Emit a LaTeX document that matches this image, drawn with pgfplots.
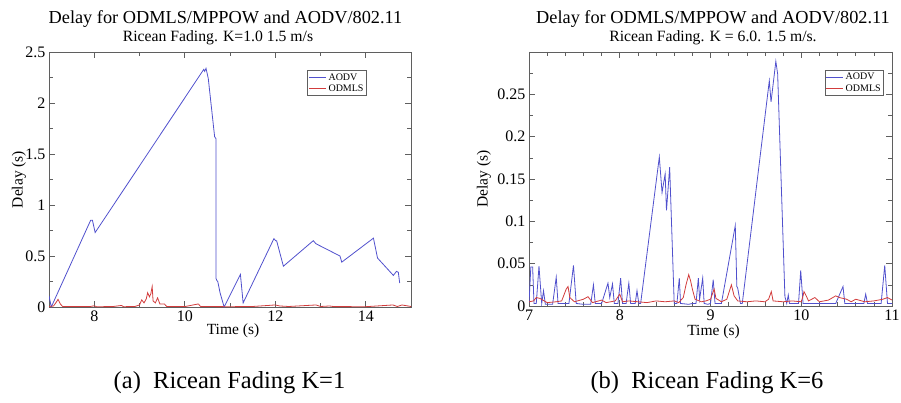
\documentclass[border=0pt]{standalone}
\usepackage{fontspec}
\setmainfont{Liberation Serif}
\usepackage{pgfplots}
\pgfplotsset{compat=1.18}
\definecolor{aodv}{RGB}{80,80,205}
\definecolor{odmls}{RGB}{210,60,60}
\definecolor{frm}{RGB}{95,95,95}
\pgfplotsset{
  myaxis/.style={
    scale only axis,
    axis line style={frm, line width=0.8pt},
    every tick/.style={frm, line width=0.6pt},
    tick align=inside,
    major tick length=6pt, minor tick length=4pt,
    scaled ticks=false,
    /pgf/number format/assume math mode=true,
    tick label style={font=\fontsize{16}{16}\selectfont},
    label style={font=\fontsize{15.5}{16}\selectfont},
    legend style={font=\fontsize{10}{10}\selectfont, draw=frm, line width=0.6pt,
      inner sep=1pt, row sep=-1pt, anchor=north east},
    legend cell align=left,
    clip=true,
  }
}
\begin{document}
\begin{tikzpicture}[x=1pt,y=1pt]
\useasboundingbox (0,0) rectangle (901,402);
% ---------------- left axis ----------------
\begin{axis}[myaxis,
  at={(49pt,95pt)}, anchor=south west,
  width=362pt, height=255pt,
  xmin=7, xmax=15, ymin=0, ymax=2.5,
  xtick={8,10,12,14}, minor xtick={9,11,13},
  ytick={0,0.5,1,1.5,2,2.5}, yticklabels={0,0.5,1,1.5,2,2.5},
  minor ytick={0.25,0.75,1.25,1.75,2.25},
  xlabel={Time (s)}, ylabel={Delay (s)},
  xlabel style={at={(axis description cs:0.5,0)}, anchor=base, yshift=-27pt, xshift=3pt},
  ylabel style={at={(axis description cs:-0.083,0.5)}, anchor=center, rotate=0},
  legend style={at={(0.878,0.929)}},
]
\addplot[aodv, line width=0.8pt] coordinates {
(7.0,0.11)(7.05,0)(7.92,0.85)(7.96,0.85)(8.02,0.73)(10.42,2.33)(10.44,2.31)(10.47,2.34)(10.52,2.24)(10.66,1.67)(10.69,1.65)(10.69,0.28)(10.71,0.26)(10.73,0.25)(10.78,0.14)(10.87,0)
(11.23,0.32)(11.29,0.04)(11.97,0.67)(12.01,0.65)(12.03,0.65)(12.18,0.40)(12.84,0.65)(12.9,0.62)(13.43,0.50)(13.47,0.44)(14.17,0.675)(14.26,0.48)(14.61,0.31)(14.68,0.35)(14.72,0.34)(14.75,0.235)
};
\addlegendentry{AODV}
\addplot[odmls, line width=0.8pt] coordinates {
(7.0,0.005)(7.1,0.01)(7.15,0.04)(7.2,0.075)(7.25,0.03)(7.3,0.005)(7.5,0.004)(7.9,0.004)(8.0,0.012)(8.05,0.003)(8.4,0.004)(8.6,0.015)(8.65,0.003)(8.9,0.005)(9.0,0.02)(9.05,0.07)(9.1,0.04)(9.15,0.08)(9.18,0.14)(9.22,0.1)(9.25,0.13)(9.28,0.2)(9.3,0.06)(9.35,0.04)(9.4,0.09)(9.45,0.03)(9.55,0.03)(9.6,0.005)(10.0,0.004)(10.3,0.03)(10.35,0.005)(11,0.003)(11.5,0.005)(12.0,0.02)(12.1,0.01)(12.3,0.005)(12.9,0.02)(13.0,0.005)(13.2,0.01)(13.3,0.004)(14.0,0.003)(14.6,0.02)(14.7,0.005)(14.8,0.02)(15,0.005)
};
\addlegendentry{ODMLS}
\end{axis}
% ---------------- right axis ----------------
\begin{axis}[myaxis,
  at={(529pt,96pt)}, anchor=south west,
  width=363pt, height=254pt,
  xmin=7, xmax=11, ymin=0, ymax=0.3,
  xtick={7,8,9,10,11},
  minor xtick={7.2,7.4,7.6,7.8,8.2,8.4,8.6,8.8,9.2,9.4,9.6,9.8,10.2,10.4,10.6,10.8},
  ytick={0,0.05,0.1,0.15,0.2,0.25}, yticklabels={0,0.05,0.1,0.15,0.2,0.25},
  minor ytick={0.025,0.075,0.125,0.175,0.225,0.275},
  xlabel={Time (s)}, ylabel={Delay (s)},
  xlabel style={at={(axis description cs:0.5,0)}, anchor=base, yshift=-29pt, xshift=3pt},
  ylabel style={at={(axis description cs:-0.124,0.5)}, anchor=center, rotate=0},
  legend style={at={(0.978,0.929)}},
]
\addplot[aodv, line width=0.8pt] coordinates {
(7.0,0.003)(7.02,0.046)(7.04,0.046)(7.055,0.003)(7.08,0.003)(7.11,0.047)(7.14,0.003)(7.16,0.018)(7.18,0.002)(7.26,0.002)(7.30,0.034)(7.32,0.003)(7.44,0.003)(7.49,0.048)(7.52,0.003)(7.60,0.002)(7.68,0.002)(7.71,0.025)(7.73,0.003)(7.80,0.003)(7.87,0.027)(7.89,0.01)(7.92,0.026)(7.94,0.003)(7.98,0.003)(8.01,0.033)(8.03,0.003)(8.07,0.003)(8.10,0.027)(8.12,0.003)(8.17,0.003)(8.19,0.018)(8.21,0.003)(8.23,0.003)(8.436,0.176)(8.466,0.134)(8.50,0.156)(8.515,0.113)(8.55,0.164)(8.60,0.003)(8.63,0.003)(8.656,0.033)(8.67,0.003)(8.76,0.002)(8.80,0.003)(8.84,0.003)(8.866,0.033)(8.88,0.008)(8.914,0.033)(8.93,0.003)(8.97,0.002)(9.0,0.003)(9.03,0.031)(9.05,0.003)(9.12,0.003)(9.273,0.095)(9.29,0.023)(9.30,0.021)(9.33,0.003)(9.35,0.003)(9.648,0.266)(9.667,0.241)(9.72,0.289)(9.74,0.274)(9.82,0.011)(9.84,0.003)(9.857,0.013)(9.87,0.003)(9.97,0.003)(9.994,0.042)(10.02,0.003)(10.38,0.003)(10.46,0.023)(10.48,0.003)(10.69,0.003)(10.71,0.014)(10.73,0.003)(10.88,0.003)(10.92,0.048)(10.95,0.003)(11,0.003)
};
\addlegendentry{AODV}
\addplot[odmls, line width=0.8pt] coordinates {
(7.0,0.005)(7.05,0.006)(7.08,0.01)(7.12,0.009)(7.2,0.004)(7.3,0.005)(7.36,0.006)(7.41,0.02)(7.43,0.023)(7.45,0.01)(7.5,0.005)(7.6,0.008)(7.65,0.011)(7.7,0.004)(7.8,0.007)(7.85,0.004)(7.95,0.006)(8.0,0.014)(8.03,0.005)(8.1,0.006)(8.2,0.005)(8.3,0.004)(8.4,0.006)(8.5,0.005)(8.6,0.006)(8.65,0.004)(8.7,0.01)(8.73,0.025)(8.76,0.037)(8.78,0.03)(8.8,0.02)(8.83,0.008)(8.9,0.005)(8.95,0.006)(9.0,0.008)(9.04,0.02)(9.06,0.009)(9.12,0.005)(9.18,0.008)(9.23,0.025)(9.26,0.012)(9.3,0.006)(9.4,0.005)(9.5,0.006)(9.6,0.005)(9.64,0.008)(9.67,0.017)(9.69,0.006)(9.8,0.005)(9.9,0.006)(10.0,0.005)(10.02,0.012)(10.03,0.017)(10.05,0.013)(10.08,0.006)(10.15,0.01)(10.2,0.005)(10.3,0.007)(10.38,0.012)(10.42,0.01)(10.5,0.008)(10.55,0.005)(10.6,0.008)(10.7,0.005)(10.8,0.006)(10.9,0.008)(10.95,0.01)(11.0,0.007)
};
\addlegendentry{ODMLS}
\end{axis}
% ---------------- titles and captions ----------------
\node[anchor=base, font=\fontsize{18.3}{18}\selectfont] at (225.5,378.7) {Delay for ODMLS/MPPOW and AODV/802.11};
\node[anchor=base, font=\fontsize{15.7}{16}\selectfont] at (218,360.3) {Ricean Fading. K=1.0 1.5 m/s};
\node[anchor=base, font=\fontsize{18.3}{18}\selectfont] at (713,378.7) {Delay for ODMLS/MPPOW and AODV/802.11};
\node[anchor=base, font=\fontsize{15.7}{16}\selectfont] at (713,360.3) {Ricean Fading. K = 6.0. 1.5 m/s.};
\node[anchor=base, font=\fontsize{24.5}{25}\selectfont] at (229.5,14) {(a)\enspace Ricean Fading K=1};
\node[anchor=base, font=\fontsize{24.5}{25}\selectfont] at (707,14) {(b)\enspace Ricean Fading K=6};
\end{tikzpicture}
\end{document}
